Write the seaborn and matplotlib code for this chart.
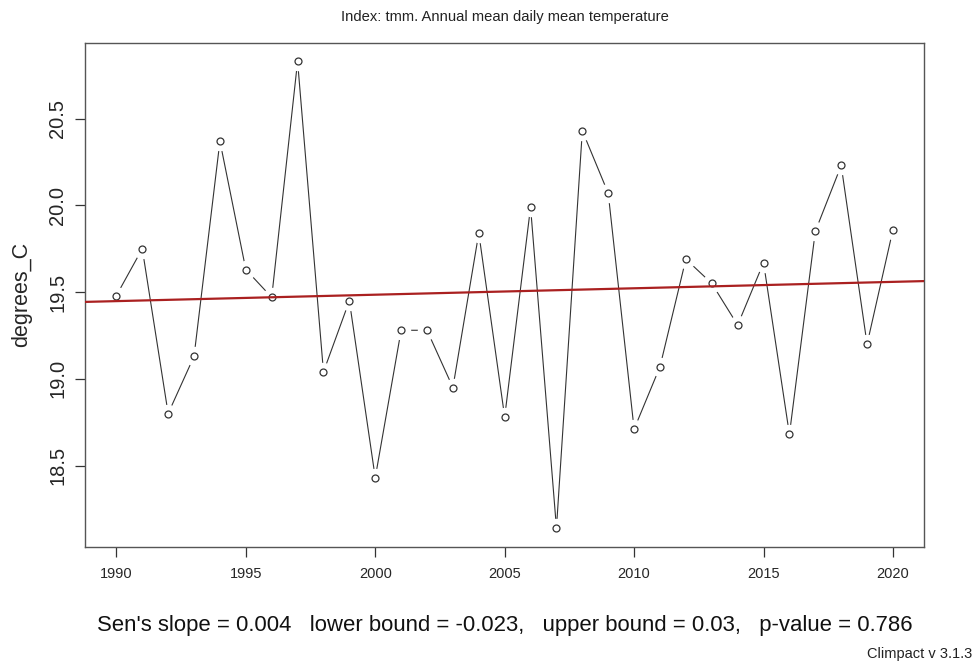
import matplotlib
matplotlib.use("Agg")
import matplotlib.pyplot as plt
import seaborn as sns
import pandas as pd

# Annual mean of daily mean temperature (tmm)
years = list(range(1990, 2021))
tmm = [19.48, 19.75, 18.80, 19.13, 20.37, 19.63, 19.47, 20.83, 19.04, 19.45,
       18.43, 19.28, 19.28, 18.95, 19.84, 18.78, 19.99, 18.14, 20.43, 20.07,
       18.71, 19.07, 19.69, 19.55, 19.31, 19.67, 18.68, 19.85, 20.23, 19.20,
       19.86]

# Sen's slope trend line (value at 1990 and slope per year)
trend_1990 = 19.448
trend_slope = 0.0037

x_ticks = [1990, 1995, 2000, 2005, 2010, 2015, 2020]
y_ticks = [18.5, 19.0, 19.5, 20.0, 20.5]

title = "Index: tmm. Annual mean daily mean temperature"
stats_text = ("Sen's slope = 0.004   lower bound = -0.023,   "
              "upper bound = 0.03,   p-value = 0.786")
credit = "Climpact v 3.1.3"

df = pd.DataFrame({"year": years, "tmm": tmm})

sns.set_style("white")
plt.rcParams["font.family"] = ["Liberation Sans", "DejaVu Sans"]

fig = plt.figure(figsize=(9.74, 6.66), dpi=100)
ax = fig.add_axes([0.0876, 0.1791, 0.8611, 0.7568])

# R-style type="b": line with gaps around open circles
sns.lineplot(data=df, x="year", y="tmm", ax=ax, color="#333333",
             linewidth=0.8, zorder=2)
ax.plot(df["year"], df["tmm"], linestyle="none", marker="o", markersize=13,
        markerfacecolor="white", markeredgecolor="white", zorder=3)
ax.plot(df["year"], df["tmm"], linestyle="none", marker="o", markersize=5,
        markerfacecolor="white", markeredgecolor="#333333",
        markeredgewidth=0.9, zorder=4)

ax.axline((1990, trend_1990), slope=trend_slope, color="#AA2020",
          linewidth=1.6, zorder=5)

# R default 4% axis padding
xr = max(years) - min(years)
yr = max(tmm) - min(tmm)
ax.set_xlim(min(years) - 0.04 * xr, max(years) + 0.04 * xr)
ax.set_ylim(min(tmm) - 0.04 * yr, max(tmm) + 0.04 * yr)

ax.set_xticks(x_ticks)
ax.set_xticklabels([str(t) for t in x_ticks], fontsize=10.5)
ax.set_yticks(y_ticks)
ax.set_yticklabels([f"{t:.1f}" for t in y_ticks], fontsize=14.5,
                   rotation=90, va="center")
ax.tick_params(axis="both", direction="out", length=7, width=0.9,
               color="#333333", bottom=True, left=True)
ax.tick_params(axis="x", pad=7.5)
ax.tick_params(axis="y", pad=6)

for side in ["top", "right", "bottom", "left"]:
    ax.spines[side].set_visible(True)
    ax.spines[side].set_color("#555555")
    ax.spines[side].set_linewidth(1.0)

ax.set_xlabel("")
ax.set_ylabel("degrees_C", fontsize=15.5)
ax.yaxis.set_label_coords(-0.064, 0.5)

fig.text(0.518, 1 - 17 / 666, title, ha="center", va="center",
         fontsize=10.6, color="#222222")
fig.text(0.518, 1 - 625 / 666, stats_text, ha="center", va="center",
         fontsize=15.9, color="#111111")
fig.text(0.998, 1 - 654 / 666, credit, ha="right", va="center",
         fontsize=10.5, color="#222222")

fig.savefig("out.png", dpi=100)
